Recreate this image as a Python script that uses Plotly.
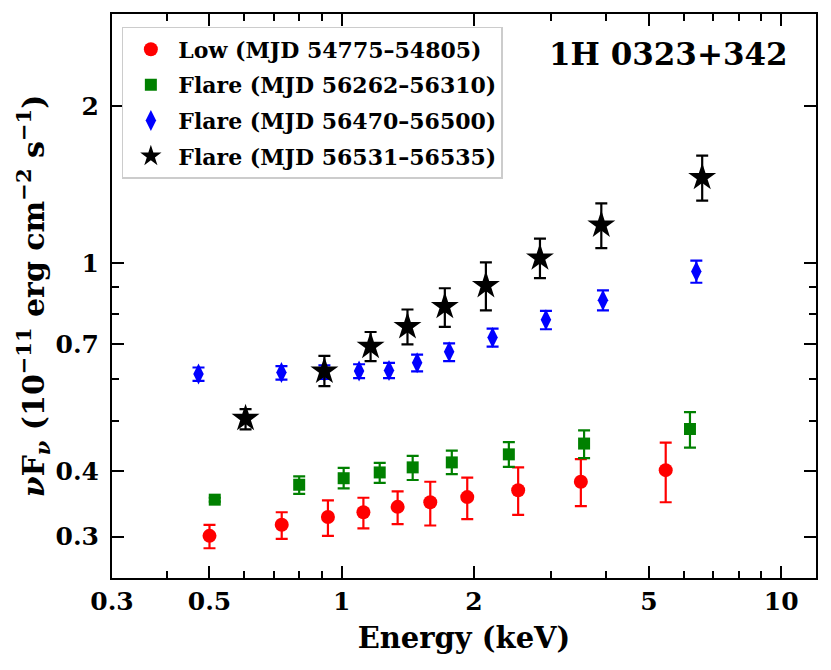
import plotly.graph_objects as go

# energies (keV), fluxes and asymmetric errors (1e-11 erg cm^-2 s^-1)
low_e = [0.50, 0.73, 0.93, 1.12, 1.34, 1.59, 1.93, 2.52, 3.50, 5.46]
low_f = [0.301, 0.316, 0.327, 0.334, 0.342, 0.349, 0.357, 0.368, 0.382, 0.402]
low_hi = [0.015, 0.018, 0.025, 0.022, 0.024, 0.033, 0.032, 0.039, 0.040, 0.052]
low_lo = [0.016, 0.019, 0.026, 0.023, 0.025, 0.034, 0.033, 0.038, 0.039, 0.053]

fl1_e = [0.514, 0.80, 1.01, 1.22, 1.45, 1.78, 2.40, 3.56, 6.20]
fl1_f = [0.353, 0.377, 0.388, 0.398, 0.407, 0.416, 0.431, 0.452, 0.482]
fl1_hi = [0.003, 0.014, 0.018, 0.017, 0.021, 0.022, 0.024, 0.027, 0.037]
fl1_lo = [0.003, 0.015, 0.017, 0.018, 0.022, 0.021, 0.023, 0.028, 0.038]

fl2_e = [0.472, 0.729, 0.913, 1.095, 1.281, 1.484, 1.755, 2.204, 2.915, 3.93, 6.41]
fl2_f = [0.614, 0.618, 0.620, 0.622, 0.624, 0.645, 0.677, 0.721, 0.780, 0.850, 0.965]
fl2_hi = [0.018, 0.018, 0.018, 0.019, 0.021, 0.024, 0.026, 0.029, 0.031, 0.038, 0.047]
fl2_lo = [0.018, 0.019, 0.019, 0.019, 0.021, 0.024, 0.027, 0.028, 0.032, 0.037, 0.047]

fl3_e = [0.604, 0.913, 1.163, 1.411, 1.716, 2.128, 2.825, 3.896, 6.61]
fl3_f = [0.505, 0.622, 0.694, 0.757, 0.827, 0.907, 1.024, 1.184, 1.46]
fl3_hi = [0.021, 0.043, 0.045, 0.059, 0.069, 0.097, 0.091, 0.118, 0.147]
fl3_lo = [0.024, 0.040, 0.044, 0.057, 0.071, 0.094, 0.087, 0.115, 0.142]

names = ["Low (MJD 54775–54805)", "Flare (MJD 56262–56310)",
         "Flare (MJD 56470–56500)", "Flare (MJD 56531–56535)"]
colors = ["#ff0000", "#008000", "#0000ff", "#000000"]
symbols = ["circle", "square", "diamond-tall", "star"]
sizes = [14, 12, 15, 21]

xticks = [0.3, 0.5, 1, 2, 5, 10]
xminor = [0.4, 0.6, 0.7, 0.8, 0.9, 3, 4, 6, 7, 8, 9]
yticks = [0.3, 0.4, 0.7, 1, 2]
yminor = [0.5, 0.6, 0.8, 0.9]

sets = [(low_e, low_f, low_hi, low_lo), (fl1_e, fl1_f, fl1_hi, fl1_lo),
        (fl2_e, fl2_f, fl2_hi, fl2_lo), (fl3_e, fl3_f, fl3_hi, fl3_lo)]

FONT = "DejaVu Serif"

fig = go.Figure()
for i, ((e, f, hi, lo), nm, c, s, sz) in enumerate(zip(sets, names, colors, symbols, sizes)):
    fig.add_trace(go.Scatter(
        x=e, y=f, mode="markers", name="<b>" + nm + "</b>", legendgroup=str(i),
        marker=dict(color=c, symbol=s, size=sz, line=dict(width=0)),
        error_y=dict(type="data", symmetric=False, array=hi, arrayminus=lo,
                     color=c, thickness=2.2, width=6),
    ))

axis_common = dict(
    type="log", showline=True, linecolor="black", linewidth=2, mirror="ticks",
    ticks="inside", ticklen=12, tickwidth=1.8, tickcolor="black",
    showgrid=False, zeroline=False, automargin=False,
    tickfont=dict(family=FONT, size=25, color="black"),
)
minor_common = dict(ticks="inside", ticklen=7, tickwidth=1.5, tickcolor="black")

fig.update_xaxes(
    **axis_common,
    range=[-0.5229, 1.0792],
    tickvals=xticks,
    ticktext=["<b>%g</b>" % v for v in xticks],
    minor=dict(tickvals=xminor, **minor_common),
    title=dict(text="<b>Energy (keV)</b>", font=dict(family=FONT, size=29, color="black"),
               standoff=13),
)
fig.update_yaxes(
    **axis_common,
    range=[-0.6021, 0.4771],
    tickvals=yticks,
    ticktext=["<b>%g</b>" % v for v in yticks],
    ticklabelstandoff=6,
    minor=dict(tickvals=yminor, **minor_common),
    title=dict(text="<b><i>ν</i>F<sub><i>ν</i></sub> (10<sup>−11</sup> erg cm<sup>−2</sup> s<sup>−1</sup>)</b>",
               font=dict(family=FONT, size=30, color="black"), standoff=2),
)

fig.add_annotation(
    x=0.963, y=0.965, xref="paper", yref="paper", xanchor="right", yanchor="top",
    text="<b>1H 0323+342</b>", showarrow=False,
    font=dict(family=FONT, size=31, color="black"),
)

# the page body adds an 8px offset, so margins are shifted to compensate
fig.update_layout(
    width=831, height=670,
    margin=dict(l=104, r=23, t=6, b=100),
    plot_bgcolor="white", paper_bgcolor="white",
    showlegend=True,
    legend=dict(x=0.014, y=0.977, xanchor="left", yanchor="top",
                bgcolor="white", bordercolor="#cccccc", borderwidth=1.5,
                font=dict(family=FONT, size=22, color="black"),
                traceorder="grouped", itemsizing="trace", itemwidth=45,
                tracegroupgap=4),
)

fig.write_html("out.html")
